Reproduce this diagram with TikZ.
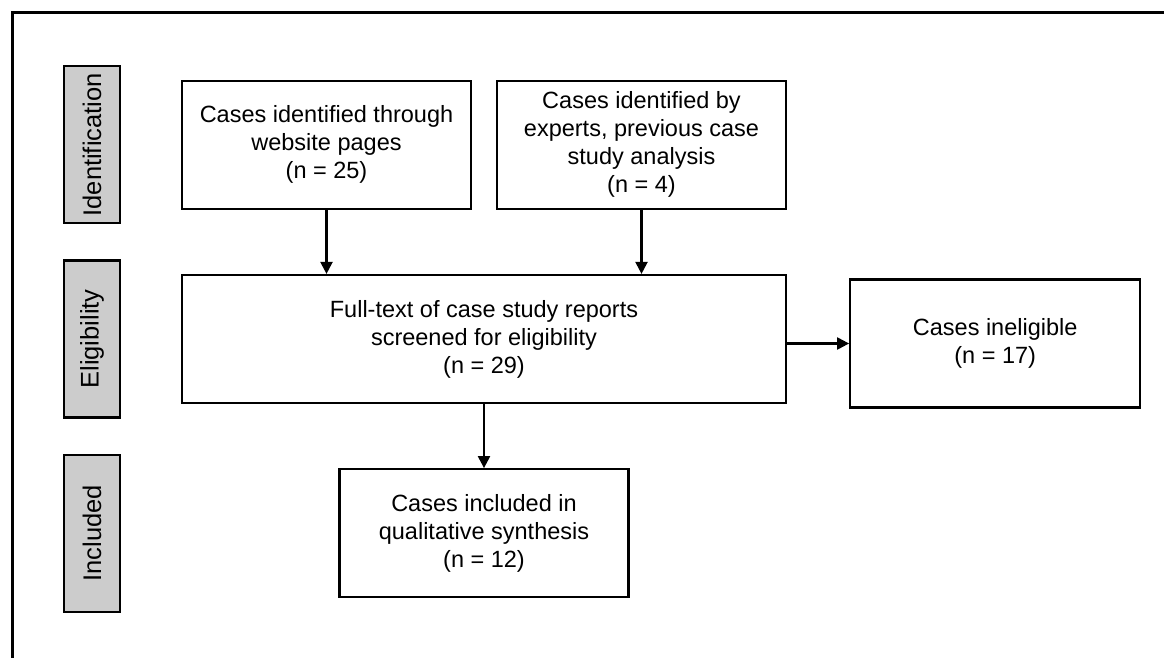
\documentclass[tikz,border=0pt]{standalone}
\usepackage{fontspec}
\setmainfont{Liberation Sans}
\usepackage{tikz}
\usetikzlibrary{arrows.meta}
\usetikzlibrary{positioning}

\begin{document}
\begin{tikzpicture}[every node/.style={rectangle, draw, line width=2.2pt, align=center, inner sep=2pt},
    casebox/.style={minimum width=289pt, minimum height=128pt, font=\fontsize{23.5}{28}\selectfont},
    stagebox/.style={fill=black!20, rotate=90, minimum width=157pt, minimum height=56pt, font=\fontsize{25.5}{28}\selectfont},
    arr/.style={line width=2.2pt, -{Triangle[length=12pt, width=12pt]}}]
    \useasboundingbox (0pt,0pt) rectangle (1164pt,-658pt);
    \draw[line width=2.2pt] (12.5pt,-658pt) -- (12.5pt,-12.5pt) -- (1164pt,-12.5pt);

    \node (full) [casebox, minimum width=604pt] at (484pt,-339pt) {Full-text of case study reports\\screened for eligibility\\(n = 29)};
    \node (web) [casebox, above=64pt of full.north west, anchor=south west] {Cases identified through\\website pages\\(n = 25)};
    \node (exp) [casebox, above=64pt of full.north east, anchor=south east] {Cases identified by\\experts, previous case\\study analysis\\(n = 4)};
    \node (inel) [casebox, minimum width=290pt, right=62pt of full, yshift=-4.5pt] {Cases ineligible\\(n = 17)};
    \node (incl) [casebox, below=64pt of full] {Cases included in\\qualitative synthesis\\(n = 12)};

    \node (ident) [stagebox] at (92pt,0 |- web) {Identification};
    \node (elig) [stagebox] at (92pt,0 |- full) {Eligibility};
    \node (inc) [stagebox] at (92pt,0 |- incl) {Included};

    \draw[arr] (web.south) -- (web.south |- full.north);
    \draw[arr] (exp.south) -- (exp.south |- full.north);
    \draw[arr] (full.east |- inel.west) -- (inel.west);
    \draw[arr] (full.south) -- (incl.north);
\end{tikzpicture}
\end{document}
